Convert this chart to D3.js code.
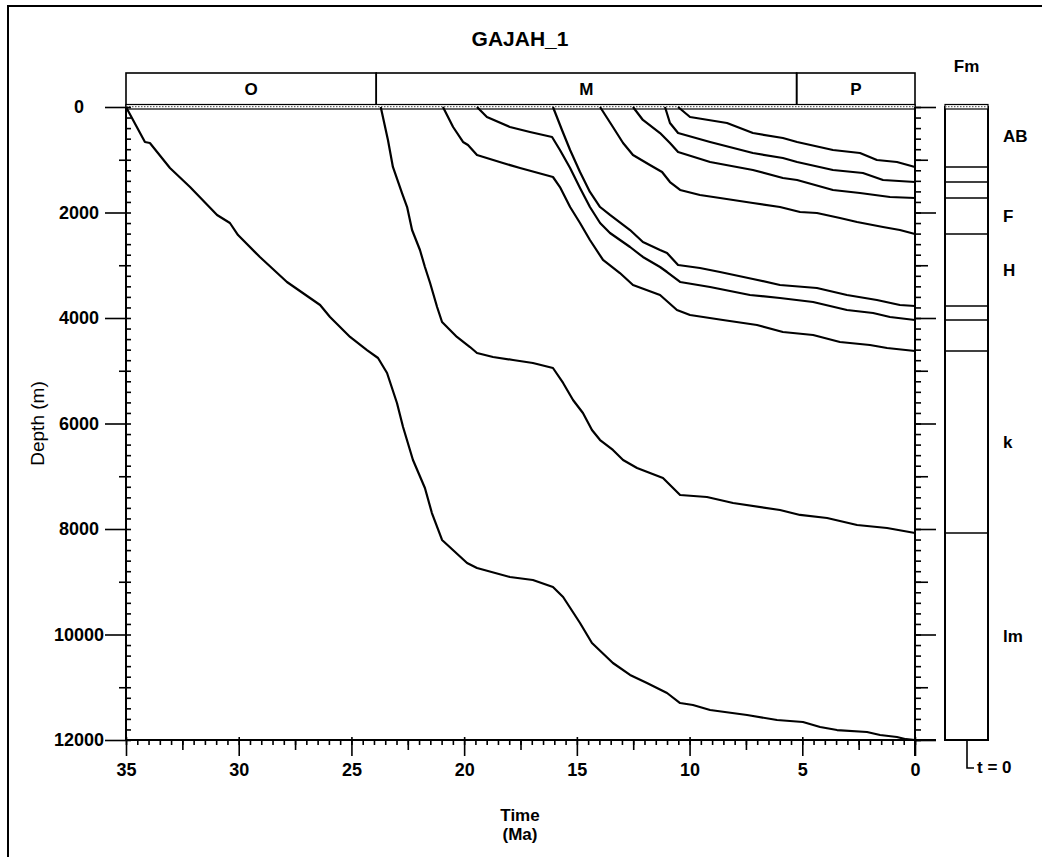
<!DOCTYPE html>
<html>
<head>
<meta charset="utf-8">
<script src="https://cdn.jsdelivr.net/npm/d3@7"></script>
<style>
  body { margin: 0; background: #fff; }
  text { font-family: Arial, "Liberation Sans", sans-serif; fill: #000; }
</style>
</head>
<body>
<div id="chart-area"></div>
<script>
/* Data */
var title = "GAJAH_1";

// epochs along the top bar (Ma)
var periods = ["O", "M", "P"];
var periodStart = [35, 23.9, 5.25];
var periodEnd = [23.9, 5.25, 0];

// formation column (tops in m)
var fmNames = ["AB", "", "", "F", "H", "", "", "k", "lm"];
var fmTops = [0, 1137, 1422, 1725, 2408, 3773, 4038, 4626, 8076];
var fmBase = 12000;

var depthTicks = [0, 2000, 4000, 6000, 8000, 10000, 12000];
var timeTicks = [35, 30, 25, 20, 15, 10, 5, 0];

// burial curves: [age Ma, depth m]
var horizon1 = [[35,0],[34.16,663],[33.94,682],[33.05,1156],[32.16,1517],[30.96,2047],[30.39,2199],
  [30.03,2427],[29.06,2844],[27.86,3317],[26.39,3754],[25.95,3981],[25.06,4360],[24.31,4607],
  [23.82,4758],[23.42,5043],[22.98,5611],[22.71,6066],[22.27,6692],[21.74,7223],[21.43,7697],
  [20.98,8208],[19.87,8644],[19.43,8739],[17.97,8910],[16.95,8967],[16.06,9099],[15.61,9289],
  [14.86,9782],[14.33,10161],[13.4,10540],[12.64,10767],[11.89,10919],[11.0,11109],[10.42,11299],
  [9.85,11337],[9.09,11431],[7.45,11526],[6.12,11621],[4.97,11659],[4.21,11754],[3.46,11811],
  [2.13,11848],[1.55,11905],[0.8,11943],[0.4,11985],[0,12000]];
var horizon2 = [[23.7,0],[23.38,626],[23.16,1137],[22.76,1630],[22.53,1896],[22.31,2332],[21.96,2711],
  [21.74,3033],[21.51,3336],[21.2,3791],[20.98,4076],[20.32,4360],[19.74,4550],[19.43,4663],
  [18.72,4739],[17.83,4796],[16.95,4853],[16.06,4948],[15.61,5232],[15.17,5554],[14.73,5801],
  [14.33,6123],[13.97,6313],[13.4,6502],[12.95,6692],[12.33,6843],[11.18,7033],[10.42,7355],
  [9.23,7393],[8.07,7507],[5.99,7640],[5.1,7734],[3.9,7791],[2.57,7924],[1.24,7981],[0,8076]];
var horizon3 = [[20.94,0],[20.49,379],[20.05,663],[19.83,720],[19.43,910],[18.28,1062],[17.52,1156],
  [16.06,1327],[15.75,1517],[15.3,1896],[14.86,2199],[14.42,2521],[13.84,2900],[13.09,3147],
  [12.51,3374],[11.31,3564],[10.56,3848],[9.98,3943],[8.52,4038],[7.01,4133],[5.86,4265],
  [4.52,4322],[3.33,4455],[2.0,4512],[1.24,4569],[0,4626]];
var horizon4 = [[19.43,0],[18.99,190],[17.97,379],[17.08,474],[16.1,569],[15.75,815],[15.3,1156],
  [14.86,1535],[14.42,1896],[13.97,2199],[13.53,2389],[12.64,2654],[12.07,2843],[11.31,3033],
  [11.0,3128],[10.42,3317],[9.09,3412],[7.32,3564],[5.99,3621],[4.52,3697],[3.02,3848],
  [1.86,3905],[1.11,3981],[0,4038]];
var horizon5 = [[16.06,0],[15.66,436],[15.3,815],[14.86,1232],[14.42,1611],[13.97,1896],[13.53,2047],
  [12.64,2332],[12.07,2559],[11.31,2711],[11.0,2768],[10.51,2995],[9.54,3052],[8.65,3128],
  [7.19,3260],[5.99,3374],[4.35,3431],[3.02,3564],[1.69,3659],[0.67,3754],[0,3773]];
var horizon6 = [[13.97,0],[13.4,379],[12.95,682],[12.51,910],[11.76,1099],[11.22,1232],[10.87,1422],
  [10.42,1573],[9.54,1668],[8.65,1725],[7.19,1820],[5.99,1896],[5.1,1991],[4.35,2009],[3.33,2104],
  [2.57,2180],[1.42,2275],[0.67,2332],[0,2408]];
var horizon7 = [[12.51,0],[12.07,246],[11.31,493],[10.87,682],[10.51,853],[9.09,1043],[7.19,1194],
  [5.86,1346],[5.23,1384],[3.64,1573],[2.44,1630],[1.11,1706],[0,1725]];
var horizon8 = [[11.09,0],[10.87,303],[10.51,493],[9.09,663],[7.19,872],[5.86,967],[5.23,1043],
  [3.64,1194],[2.31,1251],[1.42,1384],[0,1422]];
var horizon9 = [[10.51,0],[9.98,190],[8.34,303],[7.19,493],[5.86,588],[5.23,663],[3.64,815],
  [2.44,872],[1.69,1005],[0.8,1043],[0,1137]];

var horizons = [horizon1, horizon2, horizon3, horizon4, horizon5, horizon6, horizon7, horizon8, horizon9];

/* Canvas */
var W = 1042, H = 857;
var svg = d3.select("#chart-area").append("svg")
  .attr("width", W)
  .attr("height", H);

// outer frame
svg.append("rect")
  .attr("x", 8).attr("y", 6)
  .attr("width", 1060).attr("height", 880)
  .attr("fill", "none").attr("stroke", "#000").attr("stroke-width", 2);

/* Scales */
var x = d3.scaleLinear().domain([35, 0]).range([126, 915]);
var y = d3.scaleLinear().domain([0, 12000]).range([107, 740]);

// title
svg.append("text")
  .attr("x", 520).attr("y", 38)
  .attr("text-anchor", "middle").attr("dominant-baseline", "central")
  .attr("font-size", "21px").attr("font-weight", "bold")
  .text(title);

/* Epoch bar */
periods.forEach(function (p, i) {
  svg.append("rect")
    .attr("x", x(periodStart[i])).attr("y", 73)
    .attr("width", x(periodEnd[i]) - x(periodStart[i])).attr("height", 33)
    .attr("fill", "none").attr("stroke", "#000").attr("stroke-width", 1.6);
  svg.append("text")
    .attr("x", (x(periodStart[i]) + x(periodEnd[i])) / 2).attr("y", 89)
    .attr("text-anchor", "middle").attr("dominant-baseline", "central")
    .attr("font-size", "17px").attr("font-weight", "bold")
    .text(p);
});

// hatched zero line
function zeroBand(x0, x1) {
  svg.append("rect")
    .attr("x", x0).attr("y", y(0) - 2.5)
    .attr("width", x1 - x0).attr("height", 4.5)
    .attr("fill", "#fff").attr("stroke", "#000").attr("stroke-width", 1.2);
  svg.append("line")
    .attr("x1", x0).attr("x2", x1)
    .attr("y1", y(0) - 0.3).attr("y2", y(0) - 0.3)
    .attr("stroke", "#666").attr("stroke-width", 1.2)
    .attr("stroke-dasharray", "1.5,1.5");
}
zeroBand(x(35), x(0));

/* Axes */
function ax(axis, tx, ty, vals, size, labels) {
  var g = svg.append("g")
    .attr("transform", "translate(" + tx + "," + ty + ")")
    .call(axis.tickValues(vals).tickSize(size).tickFormat(labels ? d3.format("d") : ""));
  g.select(".domain").remove();
  g.selectAll("line").attr("stroke", "#000").attr("stroke-width", 1.6);
  return g;
}

var minorDepth = d3.range(0, 12001, 200);
var midDepth = [1000, 3000, 5000, 7000, 9000, 11000];

// left depth axis
ax(d3.axisLeft(y), x(35), 0, minorDepth, -5, false);
ax(d3.axisLeft(y), x(35), 0, midDepth, 7, false);
var yAxisG = ax(d3.axisLeft(y), x(35), 0, depthTicks, 21, true);
yAxisG.selectAll("text")
  .attr("x", -47).attr("text-anchor", "middle")
  .attr("font-size", "18px").attr("font-weight", "bold")
  .attr("font-family", "Arial, 'Liberation Sans', sans-serif");

// right depth axis
ax(d3.axisRight(y), x(0), 0, minorDepth, 6, false);
ax(d3.axisRight(y), x(0), 0, midDepth, 13, false);
ax(d3.axisRight(y), x(0), 0, depthTicks, 21, false);

// bottom time axis
ax(d3.axisBottom(x), 0, y(12000), d3.range(35, -0.01, -0.5), 5, false);
ax(d3.axisBottom(x), 0, y(12000), [32.5, 27.5, 22.5, 17.5, 12.5, 7.5, 2.5], 10, false);
var xAxisG = ax(d3.axisBottom(x), 0, y(12000), timeTicks, 16, true);
xAxisG.selectAll("line").attr("y1", -3);
xAxisG.selectAll("text")
  .attr("y", 23)
  .attr("font-size", "18px").attr("font-weight", "bold")
  .attr("font-family", "Arial, 'Liberation Sans', sans-serif");

// axis lines
svg.append("line").attr("x1", x(35)).attr("x2", x(35)).attr("y1", y(0)).attr("y2", y(12000))
  .attr("stroke", "#000").attr("stroke-width", 2);
svg.append("line").attr("x1", x(0)).attr("x2", x(0)).attr("y1", y(0)).attr("y2", y(12000) + 16)
  .attr("stroke", "#000").attr("stroke-width", 2);
svg.append("line").attr("x1", x(35)).attr("x2", x(0) + 21).attr("y1", y(12000)).attr("y2", y(12000))
  .attr("stroke", "#000").attr("stroke-width", 2);

// axis labels
svg.append("text")
  .attr("transform", "translate(37," + y(6000) + ") rotate(-90)")
  .attr("text-anchor", "middle").attr("dominant-baseline", "central")
  .attr("font-size", "19px")
  .text("Depth (m)");
svg.append("text")
  .attr("x", 520).attr("y", 815)
  .attr("text-anchor", "middle").attr("dominant-baseline", "central")
  .attr("font-size", "17px").attr("font-weight", "bold")
  .text("Time");
svg.append("text")
  .attr("x", 520).attr("y", 834)
  .attr("text-anchor", "middle").attr("dominant-baseline", "central")
  .attr("font-size", "17px").attr("font-weight", "bold")
  .text("(Ma)");

/* Burial curves */
var line = d3.line()
  .x(function (d) { return x(d[0]); })
  .y(function (d) { return y(d[1]); });

svg.selectAll("path.burial")
  .data(horizons)
  .enter()
  .append("path")
    .attr("class", "burial")
    .attr("d", line)
    .attr("fill", "none")
    .attr("stroke", "#000")
    .attr("stroke-width", 2.2)
    .attr("stroke-linejoin", "round");

/* Formation column */
var colX = 945, colW = 43;
svg.append("rect")
  .attr("x", colX).attr("y", y(0))
  .attr("width", colW).attr("height", y(fmBase) - y(0))
  .attr("fill", "none").attr("stroke", "#000").attr("stroke-width", 2);
zeroBand(colX, colX + colW);

svg.selectAll("line.fm")
  .data(fmTops.slice(1))
  .enter()
  .append("line")
    .attr("class", "fm")
    .attr("x1", colX).attr("x2", colX + colW)
    .attr("y1", function (d) { return y(d); })
    .attr("y2", function (d) { return y(d); })
    .attr("stroke", "#000").attr("stroke-width", 1.6);

svg.selectAll("text.fm")
  .data(fmNames.map(function (n, i) {
    return { name: n, mid: (fmTops[i] + (i + 1 < fmTops.length ? fmTops[i + 1] : fmBase)) / 2 };
  }).filter(function (d) { return d.name !== ""; }))
  .enter()
  .append("text")
    .attr("class", "fm")
    .attr("x", 1003)
    .attr("y", function (d) { return y(d.mid); })
    .attr("dominant-baseline", "central")
    .attr("font-size", "17px").attr("font-weight", "bold")
    .text(function (d) { return d.name; });

svg.append("text")
  .attr("x", colX + colW / 2).attr("y", 66)
  .attr("text-anchor", "middle").attr("dominant-baseline", "central")
  .attr("font-size", "17px").attr("font-weight", "bold")
  .text("Fm");

// present-day marker
svg.append("path")
  .attr("d", "M967," + y(fmBase) + " V768 H974")
  .attr("fill", "none").attr("stroke", "#000").attr("stroke-width", 1.6);
svg.append("text")
  .attr("x", 977).attr("y", 767)
  .attr("dominant-baseline", "central")
  .attr("font-size", "17px").attr("font-weight", "bold")
  .text("t = 0");
</script>
</body>
</html>
